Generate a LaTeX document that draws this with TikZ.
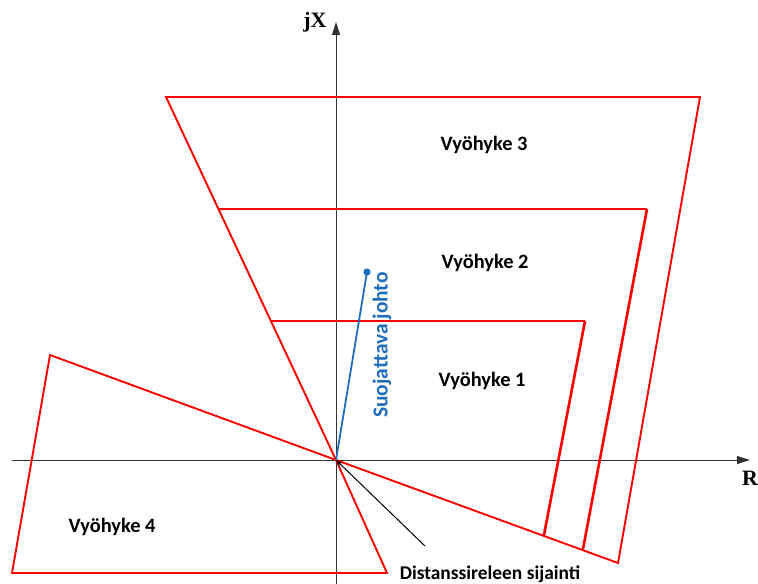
\documentclass[tikz,border=0pt]{standalone}
\usepackage{fontspec}
\setmainfont{Carlito}
\newfontfamily\serifaxis{Liberation Serif}
\usetikzlibrary{arrows.meta}
\definecolor{zonered}{RGB}{255,0,0}
\definecolor{lineblue}{RGB}{31,110,190}
\tikzset{
  zone/.style={draw=zonered, line width=1.9bp, line join=miter},
  zonethick/.style={draw=zonered, line width=2.6bp},
  axis/.style={draw=black!80, line width=0.9bp, -{Triangle[length=13bp,width=8bp]}},
  zonelabel/.style={font=\bfseries\fontsize{20.5}{23}\selectfont, inner sep=0pt},
  axislabel/.style={font=\serifaxis\bfseries\fontsize{22}{24}\selectfont, inner sep=0pt}
}
\begin{document}
\begin{tikzpicture}[x=1bp,y=-1bp]
\useasboundingbox (0,0) rectangle (758,584);
% points
\coordinate (O) at (336,460);
\coordinate (z3a) at (166,97);
\coordinate (z3b) at (700,97);
\coordinate (z3c) at (618,563);
\coordinate (z2a) at (218,209);
\coordinate (z2b) at (647,209);
\coordinate (z2c) at (583,549);
\coordinate (z1a) at (270,321);
\coordinate (z1b) at (585,321);
\coordinate (z1c) at (544,535);
\coordinate (z4a) at (50,355);
\coordinate (z4b) at (12,573);
\coordinate (z4c) at (387,573);
\coordinate (xl) at (12,460);
\coordinate (xr) at (750,460);
\coordinate (yb) at (336,584);
\coordinate (yt) at (336,22);
\coordinate (lineend) at (367,272);
\coordinate (relayfoot) at (425,546);
% axes
\draw[axis] (xl) -- (xr);
\draw[axis] (yb) -- (yt);
% zones
\draw[zone] (z3a) -- (z3b) -- (z3c) -- (O) -- cycle;
\draw[zone] (z2a) -- (z2b);
\draw[zonethick] (z2b) -- (z2c);
\draw[zone] (z1a) -- (z1b);
\draw[zonethick] (z1b) -- (z1c);
\draw[zone] (O) -- (z4a) -- (z4b) -- (z4c) -- cycle;
% protected line
\draw[lineblue, line width=1.8bp] (O) -- (lineend);
\fill[lineblue] (lineend) circle (3.6bp);
\node[font=\bfseries\fontsize{21.5}{24}\selectfont, text=lineblue, rotate=90, inner sep=0pt] (lbl) at (382,345) {Suojattava johto};
% relay location
\draw[black, line width=1bp, -{Stealth[length=7bp,width=5bp]}] (relayfoot) -- (O);
\node[font=\bfseries\fontsize{19.5}{22}\selectfont, inner sep=0pt] (relay) at (490,574) {Distanssireleen sijainti};
% labels
\node[zonelabel] (v3) at (484,145) {Vyöhyke 3};
\node[zonelabel] (v2) at (485,263) {Vyöhyke 2};
\node[zonelabel] (v1) at (482,381) {Vyöhyke 1};
\node[zonelabel] (v4) at (112,527) {Vyöhyke 4};
\node[axislabel] (jx) at (315,22) {jX};
\node[axislabel] (r) at (750,478) {R};
\end{tikzpicture}
\end{document}
